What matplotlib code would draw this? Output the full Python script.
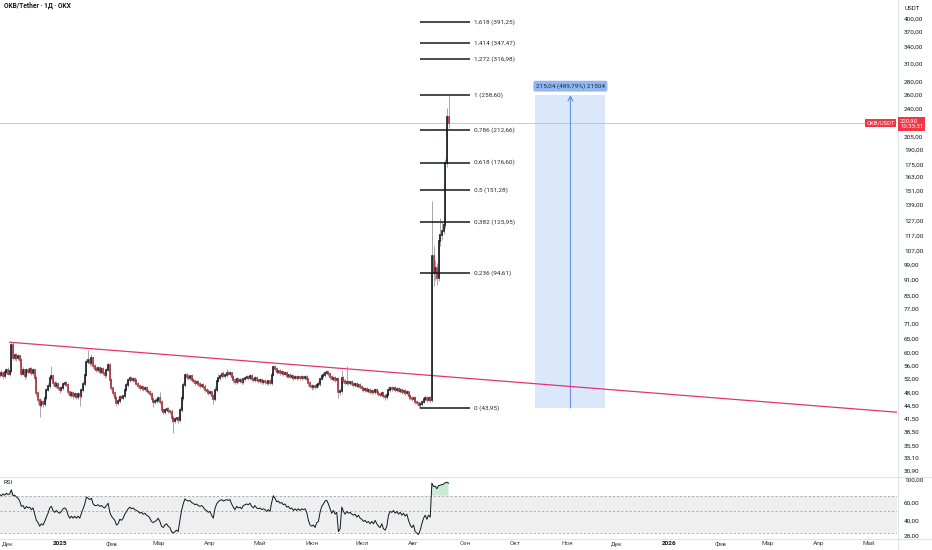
import matplotlib
matplotlib.use('Agg')
import matplotlib.pyplot as plt
import matplotlib.dates as mdates
from matplotlib.ticker import NullLocator
from matplotlib.lines import Line2D
import numpy as np
import pandas as pd

plt.rcParams['font.family'] = ['Roboto', 'DejaVu Sans']

# --- data (daily OKB/USDT) ---
start_date = '2024-11-26'
first_open = 53.5
closes = [
    53.0, 53.6, 52.7, 53.9, 54.5, 53.3, 54.2, 62.8, 58.3, 59.3,
    58.3, 59.0, 57.7, 53.3, 54.5, 52.7, 54.5, 53.9, 54.8, 53.6,
    54.5, 52.1, 47.8, 46.0, 44.7, 45.5, 45.0, 46.5, 48.7, 49.8,
    52.1, 52.7, 50.6, 49.8, 50.4, 49.2, 48.7, 49.2, 50.4, 50.6,
    50.1, 48.1, 47.3, 47.8, 47.0, 47.5, 46.8, 47.5, 47.0, 48.7,
    50.4, 53.0, 57.0, 57.7, 56.7, 58.3, 55.7, 54.8, 54.5, 55.1,
    53.9, 54.8, 53.6, 53.0, 54.5, 56.1, 51.5, 49.2, 47.8, 46.5,
    45.2, 45.7, 46.8, 46.5, 47.0, 48.7, 50.1, 51.5, 52.1, 51.5,
    51.8, 51.2, 50.4, 49.8, 49.2, 49.5, 49.0, 49.2, 48.4, 48.1,
    47.5, 46.2, 45.5, 45.7, 46.0, 46.5, 45.5, 43.5, 43.0, 43.5,
    43.7, 43.2, 43.0, 41.5, 40.9, 41.3, 41.5, 41.1, 43.5, 46.5,
    50.1, 53.0, 52.4, 52.1, 52.7, 51.5, 51.2, 50.6, 50.9, 50.4,
    49.8, 50.1, 49.5, 48.7, 48.4, 47.8, 48.1, 47.0, 46.2, 48.7,
    51.2, 52.1, 52.7, 53.3, 52.7, 53.0, 53.6, 53.3, 53.6, 52.4,
    51.5, 50.9, 51.8, 51.2, 51.5, 50.9, 51.8, 52.1, 52.4, 52.1,
    52.7, 51.8, 51.5, 52.1, 51.5, 51.2, 51.5, 50.9, 51.2, 50.9,
    50.6, 51.2, 50.6, 53.0, 55.4, 54.8, 53.9, 54.2, 53.6, 53.9,
    53.3, 53.6, 52.7, 53.0, 52.4, 52.7, 52.1, 52.4, 52.1, 52.4,
    52.1, 52.4, 52.1, 52.4, 51.8, 50.6, 49.8, 49.5, 49.8, 49.5,
    50.1, 50.4, 51.8, 52.7, 53.0, 53.6, 53.9, 53.3, 52.4, 51.8,
    52.1, 51.5, 51.8, 48.1, 48.4, 52.1, 51.2, 50.6, 50.9, 50.6,
    50.9, 50.4, 50.1, 50.4, 49.8, 50.1, 49.5, 49.2, 48.7, 49.0,
    48.4, 48.7, 48.1, 48.4, 48.1, 48.7, 48.1, 47.5, 47.3, 47.8,
    47.0, 46.8, 47.3, 48.7, 49.2, 49.0, 49.2, 48.7, 49.0, 48.4,
    48.7, 48.1, 48.4, 47.8, 48.1, 47.0, 46.5, 46.2, 46.5, 45.5,
    45.2, 44.7, 45.0, 45.5, 46.2, 46.5, 46.0, 46.5, 46.0, 104.0,
    94.2, 97.0, 92.0, 113.0, 117.0, 120.0, 124.0, 176.0, 228.0, 220.9,
]
# wick length beyond the body, in percent
up_wick = [
    1.0, 1.5, 0.8, 1.2, 1.0, 1.6, 0.8, 2.0, 1.5, 1.2,
    1.0, 1.4, 0.8, 1.0, 1.5, 0.8, 1.2, 1.0, 1.4, 0.9,
    1.2, 0.8, 1.0, 1.5, 1.0, 1.8, 1.0, 1.2, 0.8, 1.5,
    1.0, 6.0, 1.2, 1.0, 1.5, 0.8, 1.0, 1.2, 0.8, 1.4,
    1.0, 1.2, 0.8, 1.5, 1.0, 1.2, 0.8, 1.4, 1.0, 1.2,
    1.5, 1.2, 2.0, 6.0, 1.5, 2.5, 1.0, 1.2, 1.8, 1.0,
    1.2, 1.0, 1.4, 0.8, 1.2, 1.5, 1.0, 1.2, 0.8, 1.0,
    1.2, 1.5, 1.0, 1.2, 0.8, 1.0, 1.5, 1.2, 1.0, 0.8,
    1.2, 1.0, 1.5, 0.8, 1.0, 1.2, 0.8, 1.0, 1.4, 0.8,
    1.0, 1.2, 0.8, 1.5, 1.0, 1.2, 3.5, 1.0, 0.8, 1.2,
    1.0, 1.2, 0.8, 1.5, 1.0, 1.2, 0.8, 1.0, 1.5, 2.0,
    1.5, 1.2, 1.0, 1.5, 0.8, 1.2, 1.0, 0.8, 1.2, 1.0,
    0.8, 1.2, 1.0, 1.5, 0.8, 1.0, 1.2, 0.8, 1.0, 2.0,
    1.5, 2.5, 1.2, 1.0, 1.5, 1.2, 2.5, 1.0, 1.2, 0.8,
    1.2, 1.0, 1.4, 0.8, 1.0, 1.2, 0.8, 1.0, 1.2, 0.8,
    1.0, 1.2, 0.8, 1.0, 1.2, 0.8, 1.0, 1.2, 0.8, 1.0,
    1.2, 0.8, 1.0, 1.5, 1.5, 1.0, 1.2, 0.8, 1.0, 1.2,
    0.8, 1.0, 1.2, 0.8, 1.0, 1.2, 0.8, 1.0, 0.8, 1.0,
    0.8, 1.0, 0.8, 1.0, 1.2, 0.8, 1.0, 1.2, 0.8, 1.0,
    1.2, 1.5, 1.0, 1.2, 1.5, 1.0, 1.2, 0.8, 1.0, 1.2,
    0.8, 1.0, 1.2, 1.0, 1.5, 4.6, 1.2, 1.0, 9.6, 1.2,
    0.8, 1.0, 1.2, 0.8, 1.0, 1.2, 0.8, 1.0, 0.8, 1.2,
    1.0, 0.8, 1.2, 1.0, 0.8, 1.2, 1.0, 0.8, 1.0, 1.2,
    0.8, 1.0, 1.2, 1.5, 1.0, 1.2, 0.8, 1.0, 1.2, 0.8,
    1.0, 1.2, 0.8, 1.0, 1.2, 0.8, 1.0, 1.2, 0.8, 1.0,
    1.2, 0.8, 1.0, 1.2, 1.0, 1.5, 1.0, 1.2, 1.0, 36.5,
    5.8, 5.0, 3.0, 4.4, 10.0, 5.0, 4.8, 2.3, 5.3, 13.4,
]
down_wick = [
    1.2, 0.8, 1.5, 1.0, 1.2, 0.8, 1.4, 0.8, 1.2, 1.0,
    1.5, 0.8, 1.2, 1.0, 0.8, 1.5, 1.0, 1.2, 0.8, 1.0,
    1.0, 1.5, 1.8, 2.5, 6.5, 1.2, 1.5, 1.0, 1.2, 0.8,
    1.2, 1.0, 1.5, 0.8, 1.2, 1.0, 1.5, 0.8, 1.0, 1.2,
    0.8, 1.5, 1.2, 1.0, 1.5, 0.8, 1.2, 1.0, 5.5, 1.0,
    1.2, 1.0, 0.8, 1.2, 1.5, 1.0, 1.2, 0.8, 1.0, 1.2,
    1.0, 0.8, 1.2, 1.5, 1.0, 0.8, 2.5, 1.2, 1.5, 1.0,
    1.8, 1.0, 1.2, 0.8, 1.0, 1.2, 0.8, 1.0, 1.2, 0.8,
    1.0, 1.2, 0.8, 1.0, 1.2, 0.8, 1.0, 1.2, 0.8, 1.0,
    1.2, 1.5, 3.0, 1.0, 1.2, 1.0, 1.2, 1.5, 1.0, 1.2,
    0.8, 1.0, 1.2, 2.0, 6.6, 1.2, 1.0, 1.5, 1.0, 1.2,
    1.0, 1.2, 0.8, 1.0, 1.2, 0.8, 1.0, 1.2, 0.8, 1.0,
    1.2, 0.8, 1.0, 1.2, 0.8, 1.0, 1.2, 1.5, 2.5, 1.0,
    1.0, 0.8, 1.2, 1.0, 0.8, 1.2, 1.0, 0.8, 1.2, 1.0,
    1.5, 1.0, 0.8, 1.2, 1.0, 0.8, 1.2, 1.0, 0.8, 1.0,
    1.2, 0.8, 1.0, 1.2, 0.8, 1.0, 1.2, 0.8, 1.0, 1.2,
    0.8, 1.0, 1.2, 1.0, 0.8, 1.2, 1.0, 0.8, 1.2, 1.0,
    1.2, 0.8, 1.0, 1.2, 0.8, 1.0, 1.2, 0.8, 1.0, 0.8,
    1.0, 1.2, 0.8, 1.0, 1.2, 1.5, 1.0, 1.5, 1.2, 1.0,
    0.8, 1.0, 1.2, 0.8, 1.0, 1.2, 0.8, 1.0, 1.2, 0.8,
    1.0, 1.2, 0.8, 3.3, 1.5, 1.0, 1.2, 0.8, 1.0, 1.2,
    1.0, 0.8, 1.2, 1.0, 0.8, 1.2, 1.0, 0.8, 1.2, 1.0,
    0.8, 1.2, 1.0, 0.8, 1.2, 1.0, 0.8, 1.2, 1.0, 0.8,
    1.2, 1.5, 1.0, 0.8, 1.2, 1.0, 0.8, 1.2, 1.0, 0.8,
    1.2, 1.0, 0.8, 1.2, 1.0, 1.5, 1.2, 1.0, 0.8, 1.2,
    1.0, 1.5, 1.7, 1.0, 0.8, 1.2, 1.0, 0.8, 1.2, 1.0,
    6.6, 3.4, 4.3, 2.0, 2.7, 2.6, 1.7, 1.6, 2.3, 2.7,
]
rsi = [
    72, 70, 73, 71, 74, 72, 73, 80, 70, 71,
    68, 66, 62, 55, 56, 52, 55, 53, 54, 51,
    53, 46, 40, 38, 35, 37, 36, 39, 43, 47,
    53, 55, 50, 48, 50, 48, 47, 49, 52, 53,
    51, 45, 42, 44, 42, 44, 42, 44, 42, 47,
    52, 58, 68, 66, 64, 66, 58, 56, 56, 57,
    55, 56, 54, 53, 56, 59, 48, 44, 42, 40,
    36, 37, 41, 40, 42, 46, 49, 52, 54, 52,
    53, 51, 50, 49, 47, 48, 46, 47, 45, 44,
    42, 39, 38, 39, 40, 42, 39, 35, 34, 36,
    37, 35, 34, 31, 30, 31, 32, 31, 40, 50,
    58, 65, 63, 62, 63, 60, 59, 57, 58, 56,
    55, 56, 54, 51, 50, 48, 49, 45, 42, 52,
    58, 61, 63, 64, 62, 63, 64, 63, 64, 58,
    54, 51, 55, 53, 54, 52, 56, 57, 58, 57,
    59, 55, 53, 56, 53, 52, 53, 51, 52, 51,
    49, 51, 49, 60, 70, 66, 61, 62, 59, 60,
    57, 58, 54, 55, 52, 53, 50, 52, 50, 52,
    50, 52, 51, 52, 48, 40, 36, 35, 36, 34,
    38, 39, 48, 55, 58, 62, 63, 58, 52, 47,
    50, 46, 48, 31, 33, 54, 49, 46, 49, 47,
    48, 46, 45, 46, 43, 45, 42, 41, 39, 40,
    38, 39, 37, 39, 37, 40, 37, 35, 34, 37,
    33, 32, 35, 45, 49, 48, 50, 47, 49, 46,
    48, 45, 47, 44, 46, 40, 36, 34, 36, 31,
    30, 29, 32, 37, 42, 45, 41, 45, 43, 93,
    86, 87, 82, 88, 89, 90, 91, 94, 95, 93,
]

price_ticks = [400, 370, 340, 310, 280, 260, 240, 205, 190, 175, 163, 151, 139,
               127, 117, 107, 99, 91, 83, 77, 71, 65, 60, 56, 52, 48, 44.5,
               41.5, 38.5, 35.5, 33.1, 30.9]
rsi_ticks = [100, 60, 40, 28]
month_dates = ['2024-12-01', '2025-01-01', '2025-02-01', '2025-03-01', '2025-04-01',
               '2025-05-01', '2025-06-01', '2025-07-01', '2025-08-01', '2025-09-01',
               '2025-10-01', '2025-11-01', '2025-12-01', '2026-01-01', '2026-02-01',
               '2026-03-01', '2026-04-01', '2026-05-01']
month_labels = ['Дек', '2025', 'Фев', 'Мар', 'Апр', 'Май', 'Июн', 'Июл', 'Авг', 'Сен',
                'Окт', 'Ноя', 'Дек', '2026', 'Фев', 'Мар', 'Апр', 'Май']

fib_levels = [0, 0.236, 0.382, 0.5, 0.618, 0.786, 1, 1.272, 1.414, 1.618]
fib_prices = [43.95, 94.61, 125.95, 151.28, 176.60, 212.66, 258.60, 316.98, 347.47, 391.25]
fib_start, fib_end = '2025-08-05', '2025-09-04'

trend_dates = ['2024-12-02', '2026-05-18']
trend_prices = [63.8, 42.9]

meas_left, meas_right = '2025-10-13', '2025-11-24'
meas_low, meas_high = 43.95, 258.60
meas_text = '215,04 (489,79%) 21504'

last_price = 220.90
last_time = '10:33:31'

# --- figure layout (pixel based, 932 x 550) ---
W, H = 932, 550
fig = plt.figure(figsize=(W / 100, H / 100), dpi=100)
fig.patch.set_facecolor('white')

def fx(px):
    return px / W

def fy(py):
    return 1 - py / H

ax = fig.add_axes([0, fy(476), fx(897), fy(0) - fy(476)])
rax = fig.add_axes([0, fy(538), fx(897), fy(477) - fy(538)])

dates = pd.date_range(start_date, periods=len(closes), freq='D')
x = mdates.date2num(dates)
closes = np.array(closes)
opens = np.concatenate([[first_open], closes[:-1]])
top = np.maximum(opens, closes)
bot = np.minimum(opens, closes)
highs = top * (1 + np.array(up_wick) / 100)
lows = bot * (1 - np.array(down_wick) / 100)
up = closes >= opens

def d(s):
    return mdates.date2num(pd.Timestamp(s))

base = d('2024-12-01')
xmin, xmax = base - 4.79, base + 532.7

# --- main price pane ---
ax.set_yscale('log')
ax.set_ylim(29.9, 443.5)
ax.set_xlim(xmin, xmax)

ax.axhline(last_price, color='#f49aa1', lw=0.5, zorder=1)

# measurement box
ax.fill_between([d(meas_left), d(meas_right)], meas_low, meas_high,
                color='#dbe8fb', lw=0, zorder=0.5)
mid = (d(meas_left) + d(meas_right)) / 2
ax.annotate('', xy=(mid, meas_high), xytext=(mid, meas_low),
            arrowprops=dict(arrowstyle='->,head_length=0.35,head_width=0.18',
                            color='#5b86e0', lw=0.7, shrinkA=0, shrinkB=0), zorder=2)
ax.annotate(meas_text, xy=(mid, meas_high), xytext=(0, 6.5), textcoords='offset points',
            ha='center', va='center', fontsize=4.6, color='#1b2a44',
            bbox=dict(boxstyle='round,pad=0.4,rounding_size=0.3', fc='#93b7ef', ec='none'))

# trend line
ax.plot([d(s) for s in trend_dates], trend_prices, color='#e5336e', lw=0.9, zorder=2)

# candles
ax.vlines(x, lows, highs, color='#8e8e8e', lw=0.55, zorder=3)
ax.vlines(x[up], bot[up], top[up], color='#131722', lw=1.2, zorder=4, capstyle='projecting')
ax.vlines(x[~up], bot[~up], top[~up], color='#a8323a', lw=1.2, zorder=4, capstyle='projecting')

# fibonacci levels
for lvl, p in zip(fib_levels, fib_prices):
    ax.plot([d(fib_start), d(fib_end)], [p, p], color='#131722', lw=1.1, zorder=5,
            solid_capstyle='butt')
    lab = '{} ({})'.format(str(lvl).replace('.', ','), f'{p:.2f}'.replace('.', ','))
    ax.text(d(fib_end) + 2.4, p, lab, fontsize=4.6, color='#2a2e39', va='center', ha='left')

ax.yaxis.tick_right()
ax.set_yticks(price_ticks)
ax.set_yticklabels([f'{v:.2f}'.replace('.', ',') for v in price_ticks])
ax.yaxis.set_minor_locator(NullLocator())
ax.tick_params(axis='y', length=0, pad=5, labelsize=4.6, labelcolor='#131722')
ax.set_xticks([])
for s in ax.spines.values():
    s.set_visible(False)

# --- RSI pane ---
rax.set_yscale('log')
rax.set_ylim(26.8, 107)
rax.set_xlim(xmin, xmax)
rax.axhspan(30, 70, color='#efefef', lw=0, zorder=0)
for lv in [70, 50, 30]:
    rax.axhline(lv, color='#a0a3ab', lw=0.6, ls=(0, (2.5, 2.5)), zorder=1)
rsi = np.array(rsi)
rax.fill_between(x, 70, rsi, where=rsi >= 70, color='#bfe5c9', alpha=0.8, lw=0, zorder=1.5)
rax.plot(x, rsi, color='#131722', lw=0.7, zorder=2)
rax.text(4 / 897, 1 - 5 / 61, 'RSI', transform=rax.transAxes, fontsize=4.5,
         color='#131722', va='center', ha='left')

rax.yaxis.tick_right()
rax.set_yticks(rsi_ticks)
rax.set_yticklabels([f'{v:.2f}'.replace('.', ',') for v in rsi_ticks])
rax.yaxis.set_minor_locator(NullLocator())
rax.tick_params(axis='y', length=0, pad=5, labelsize=4.6, labelcolor='#131722')
rax.set_xticks([d(s) for s in month_dates])
rax.set_xticklabels(month_labels)
rax.tick_params(axis='x', length=0, pad=2.5, labelsize=4.6, labelcolor='#444')
for t in rax.get_xticklabels():
    if t.get_text() in ('2025', '2026'):
        t.set_fontweight('bold')
        t.set_color('#131722')
for s in rax.spines.values():
    s.set_visible(False)

# --- pane borders and overlay labels ---
grey = '#e0e3eb'
fig.add_artist(Line2D([fx(897.5), fx(897.5)], [0, 1], color=grey, lw=0.8))
fig.add_artist(Line2D([0, 1], [fy(476.5), fy(476.5)], color=grey, lw=0.8))
fig.add_artist(Line2D([0, 1], [fy(538.5), fy(538.5)], color=grey, lw=0.8))

fig.text(fx(4), fy(6), 'OKB/Tether · 1Д · OKX', fontsize=4.8, fontweight='bold',
         color='#131722', va='center', ha='left')
fig.text(fx(905), fy(8), 'USDT', fontsize=4.5, color='#131722', va='center', ha='left')

fig.text(fx(900), fy(124), f'{last_price:.2f}'.replace('.', ',') + '\n' + last_time,
         fontsize=4.3, color='white', va='center', ha='left', linespacing=1.0,
         bbox=dict(boxstyle='square,pad=0.3', fc='#f23645', ec='none'))
fig.text(fx(895), fy(123), 'OKB/USDT', fontsize=4.2, color='white', va='center', ha='right',
         bbox=dict(boxstyle='square,pad=0.25', fc='#f23645', ec='none'))

fig.savefig('out.png', dpi=100, facecolor='white')
